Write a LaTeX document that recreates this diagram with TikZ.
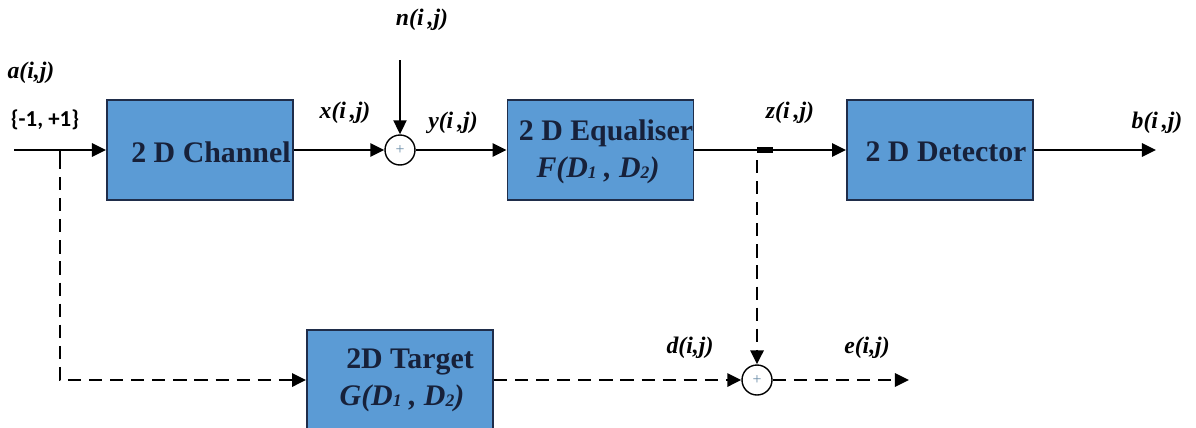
\documentclass[tikz,border=0pt]{standalone}
\usepackage{fontspec}
\setmainfont{Liberation Serif}
\newfontfamily\calib{Carlito}
\usetikzlibrary{arrows.meta}
\definecolor{boxfill}{HTML}{5B9BD5}
\definecolor{boxline}{HTML}{1F2D4A}
\definecolor{boxtext}{HTML}{17213A}
\definecolor{plusc}{HTML}{6A8CA8}
\tikzset{
  blk/.style={draw=boxline, line width=1.1pt, fill=boxfill, minimum width=3.72cm, minimum height=2cm, inner sep=0pt},
  blktxt/.style={text=boxtext, font=\fontsize{17}{19}\selectfont\bfseries, align=center, inner sep=0pt},
  lbl/.style={font=\fontsize{13.5}{15}\selectfont\bfseries\itshape, inner sep=0pt},
  sumc/.style={circle, draw, line width=0.8pt, minimum size=0.6cm, inner sep=0pt, fill=white},
  sig/.style={line width=1.5pt, -{Triangle[length=8pt,width=7.5pt]}},
  dsig/.style={line width=1.6pt, dash pattern=on 7.5pt off 4.5pt, -{Triangle[length=8pt,width=7.5pt]}},
}
\newcommand{\Dsub}[2]{#1{\fontsize{10}{12}\selectfont\raisebox{-0.5pt}{#2}}}
\begin{document}
\begin{tikzpicture}[x=0.02cm, y=-0.02cm]
\useasboundingbox (0,0) rectangle (1196,427);
% blocks
\node[blk] (ch) at (200,150) {};
\node[blk] (eq) at (600.5,150) {};
\node[blk] (det) at (940,150) {};
\node[blk] (tg) at (400,380) {};
\node[blktxt] at (211,152) {2 D Channel};
\node[blktxt] at (606,133) {2 D Equaliser};
\node[blktxt, font=\fontsize{17}{19}\selectfont\bfseries\itshape] at (598,170) {F(\Dsub{D}{1} , \Dsub{D}{2})};
\node[blktxt] at (946,152) {2 D Detector};
\node[blktxt] at (410,362) {2D Target};
\node[blktxt, font=\fontsize{17}{19}\selectfont\bfseries\itshape] at (402,398) {G(\Dsub{D}{1} , \Dsub{D}{2})};
% summing junctions
\node[sumc] (s1) at (400,150) {};
\node[text=plusc, font=\fontsize{9}{10}\selectfont, inner sep=0pt] at (s1) {+};
\node[sumc] (s2) at (757,380) {};
\node[text=plusc, font=\fontsize{9}{10}\selectfont, inner sep=0pt] at (s2) {+};
% coordinates
\coordinate (in) at (14,150);
\coordinate (j1) at (60,150);
\coordinate (j1b) at (60,380);
\coordinate (nz) at (400,60);
\coordinate (j2) at (757,150);
\coordinate (j2b) at (757,160);
\coordinate (out) at (1156,150);
\coordinate (eout) at (909,380);
% connectors
\draw[sig] (in) -- (ch.west);
\draw[sig] (ch.east) -- (s1.west);
\draw[sig, line width=0.9pt] (nz) -- (s1.north);
\draw[sig] (s1.east) -- (eq.west);
\draw[sig] (eq.east) -- (det.west);
\draw[line width=3pt] (j2) -- ++(16,0);
\draw[sig] (det.east) -- (out);
\draw[line width=1.6pt] (j1) -- ++(0,6);
\draw[dsig] (j1) ++(0,6) -- (j1b) -- (tg.west);
\draw[dsig] (tg.east) -- (s2.west);
\draw[dsig] (j2b) -- (s2.north);
\draw[dsig] (s2.east) -- (eout);
% labels
\node[lbl] at (31,73) {a(i,j)};
\node[font=\calib\fontsize{13}{15}\selectfont\bfseries, inner sep=0pt] at (45,120) {\{-1, +1\}};
\node[lbl] at (345,113) {x(i\,,j)};
\node[lbl] at (422,20) {n(i\,,j)};
\node[lbl] at (453,123) {y(i\,,j)};
\node[lbl] at (790,113) {z(i\,,j)};
\node[lbl] at (1157,123) {b(i\,,j)};
\node[lbl] at (690,348) {d(i,j)};
\node[lbl] at (867,348) {e(i,j)};
\end{tikzpicture}
\end{document}
